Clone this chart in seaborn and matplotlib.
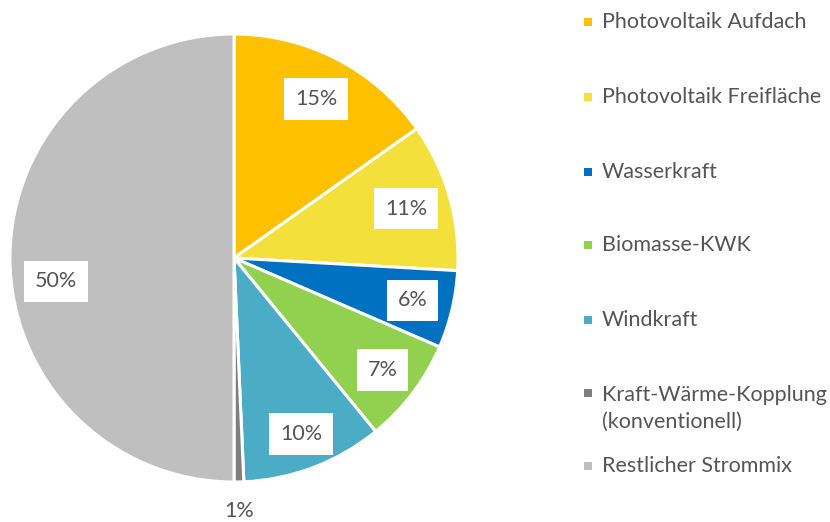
import matplotlib
matplotlib.use("Agg")
import matplotlib.pyplot as plt
import seaborn as sns
import numpy as np

sns.set_theme(style="white")
plt.rcParams['font.family'] = ['Lato', 'DejaVu Sans']

categories = ["Photovoltaik Aufdach", "Photovoltaik Freifläche", "Wasserkraft",
              "Biomasse-KWK", "Windkraft", "Kraft-Wärme-Kopplung\n(konventionell)",
              "Restlicher Strommix"]
values = [15.2, 10.7, 5.6, 7.6, 10.2, 0.7, 50.0]
pct_labels = ["15%", "11%", "6%", "7%", "10%", "1%", "50%"]
colors = ["#FFC000", "#F3E03B", "#0070C0", "#92D050", "#4BACC6", "#7F7F7F", "#BFBFBF"]

# label placement styles (radius fraction, angle offset in degrees, boxed)
label_r = [0.80, 0.80, 0.82, 0.83, 0.84, 1.13, 0.80]
label_dang = [0, 0, 0, 0, 0, 0, 7.5]
label_box = [True, True, True, True, True, False, True]

text_color = "#555555"

fig = plt.figure(figsize=(8.3, 5.22), dpi=100)
ax = fig.add_axes([10 / 830, 40 / 522, 448 / 830, 448 / 522])
wedges, _ = ax.pie(values, colors=colors, startangle=90, counterclock=False,
                   wedgeprops=dict(edgecolor="white", linewidth=2.2))
ax.set_xlim(-1, 1)
ax.set_ylim(-1, 1)
ax.set_aspect("equal")
ax.axis("off")

for w, lab, r, da, boxed in zip(wedges, pct_labels, label_r, label_dang, label_box):
    ang = np.deg2rad((w.theta1 + w.theta2) / 2 + da)
    x, y = r * np.cos(ang), r * np.sin(ang)
    kw = {}
    if boxed:
        kw["bbox"] = dict(boxstyle="square,pad=0.5", fc="white", ec="none")
    ax.text(x, y, lab, ha="center", va="center", fontsize=15.5, color=text_color,
            clip_on=False, **kw)

# legend (manual, with lines at fixed spacing)
leg_y = [22, 97, 172, 245, 320, 393, 466]
for c, lab, yy in zip(colors, categories, leg_y):
    yf = 1 - yy / 522
    fig.patches.append(plt.Rectangle((584 / 830, yf - 4 / 522), 8 / 830, 8 / 522,
                                     transform=fig.transFigure, fc=c, ec="none"))
    if "\n" in lab:
        fig.text(602 / 830, 1 - (yy - 8) / 522, lab, ha="left", va="top",
                 fontsize=15.5, color=text_color, linespacing=1.45)
    else:
        fig.text(602 / 830, yf, lab, ha="left", va="center",
                 fontsize=15.5, color=text_color)

fig.savefig("out.png", dpi=100)
